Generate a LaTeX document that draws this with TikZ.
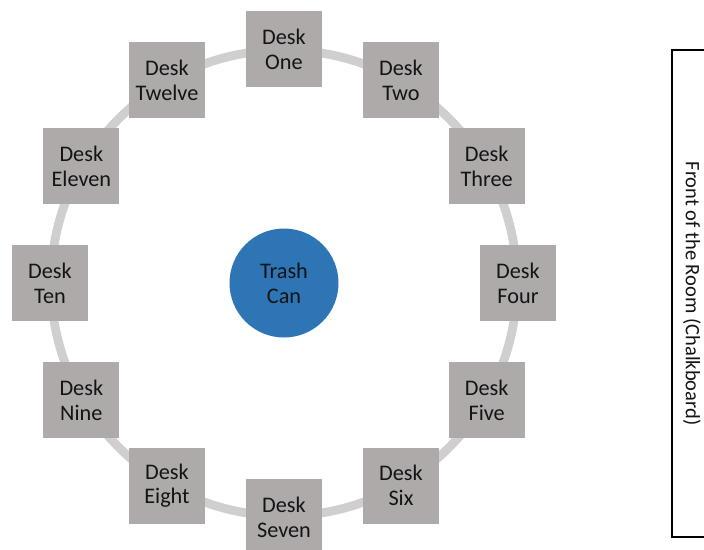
\documentclass[tikz,border=0pt]{standalone}
\usepackage{fontspec}
\setmainfont{Carlito}
\usepackage{xcolor}
\usepackage{tikz}
\definecolor{deskgray}{HTML}{AEAAAA}
\definecolor{ringgray}{HTML}{D0CECE}
\definecolor{trashblue}{HTML}{2E75B6}
\definecolor{ink}{HTML}{141414}
\newcommand\deskfont{\fontsize{19}{21.3}\selectfont}
\newcommand\frontfont{\fontsize{17.5}{19}\selectfont}

\begin{document}
\begin{tikzpicture}[x=0.03cm,y=-0.03cm,
    desk/.style={fill=deskgray,minimum size=2.28cm,inner sep=0pt,align=center,font=\deskfont,text=ink},
    trash/.style={circle,fill=trashblue,minimum size=3.27cm,inner sep=0pt,align=center,font=\deskfont,text=ink},
    front/.style={draw=black,line width=1.7pt,minimum width=14.61cm,minimum height=1.2cm,inner sep=0pt,font=\frontfont,text=ink}]
  \useasboundingbox (0,0) rectangle (704,549);
  \coordinate (c) at (284,283);
  \draw[ringgray,line width=7.5pt] (c) circle (233);
  \foreach \n/\name in {1/One,2/Two,3/Three,4/Four,5/Five,6/Six,7/Seven,8/Eight,9/Nine,10/Ten,11/Eleven,12/Twelve}
    {\node[desk] (desk\n) at ({284+234*sin(30*(\n-1))},{283-234*cos(30*(\n-1))}) {Desk\\\name};}
  \node[trash] (trash) at (c) {Trash\\Can};
  \node[front,rotate=-90] (front) at (692,293.5) {Front of the Room (Chalkboard)};
\end{tikzpicture}
\end{document}
